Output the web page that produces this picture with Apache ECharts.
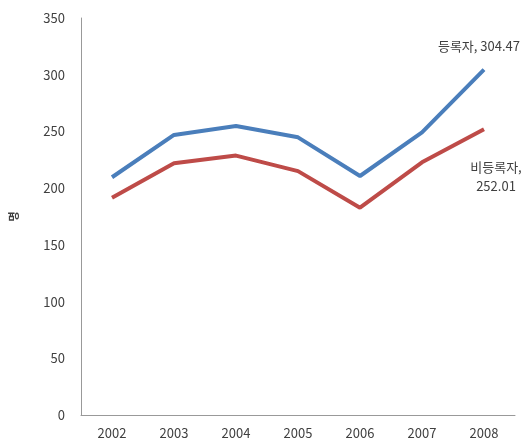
<!DOCTYPE html>
<html>
<head>
<meta charset="utf-8">
<script src="https://cdn.jsdelivr.net/npm/echarts@6/dist/echarts.min.js"></script>
<style>
  html, body { margin: 0; padding: 0; background: #fff; }
  #chart { width: 531px; height: 442px; }
</style>
</head>
<body>
<div id="chart"></div>
<script>
var years = ['2002', '2003', '2004', '2005', '2006', '2007', '2008'];
var registered = [209.6, 246.9, 254.8, 244.8, 210.7, 249.2, 304.47];
var unregistered = [191.6, 221.9, 228.7, 215.0, 182.8, 222.8, 252.01];
var seriesNames = ['등록자', '비등록자'];
var yTicks = { min: 0, max: 350, interval: 50 };

var font = '"Noto Sans CJK KR", "Noto Sans", sans-serif';
var textColor = '#404040';

var myChart = echarts.init(document.getElementById('chart'));

var option = {
    animation: false,
    grid: { left: 80, right: 16, top: 18, bottom: 27 },
    xAxis: {
        type: 'category',
        data: years,
        boundaryGap: true,
        axisLine: { lineStyle: { color: '#999', width: 1 } },
        axisTick: { show: false },
        axisLabel: { color: textColor, fontFamily: font, fontSize: 13, margin: 12 },
        splitLine: { show: false }
    },
    yAxis: {
        type: 'value',
        min: yTicks.min,
        max: yTicks.max,
        interval: yTicks.interval,
        name: '명',
        nameLocation: 'middle',
        nameRotate: 90,
        nameGap: 62,
        nameTextStyle: { color: textColor, fontFamily: font, fontSize: 11, fontWeight: 'bold' },
        axisLine: { show: true, lineStyle: { color: '#999', width: 1 } },
        axisTick: { show: false },
        axisLabel: { color: textColor, fontFamily: font, fontSize: 13, margin: 16 },
        splitLine: { show: false }
    },
    series: [
        {
            name: seriesNames[0],
            type: 'line',
            symbol: 'none',
            lineStyle: { color: '#4a7ebb', width: 4 },
            itemStyle: { color: '#4a7ebb' },
            data: registered,
            endLabel: {
                show: true,
                align: 'center',
                verticalAlign: 'middle',
                distance: 0,
                offset: [-5, -24],
                color: textColor,
                fontFamily: font,
                fontSize: 13,
                formatter: function (p) { return p.seriesName + ', ' + p.value; }
            }
        },
        {
            name: seriesNames[1],
            type: 'line',
            symbol: 'none',
            lineStyle: { color: '#be4b48', width: 4 },
            itemStyle: { color: '#be4b48' },
            data: unregistered,
            endLabel: {
                show: true,
                align: 'center',
                verticalAlign: 'middle',
                distance: 0,
                offset: [12, 47],
                lineHeight: 19,
                color: textColor,
                fontFamily: font,
                fontSize: 13,
                formatter: function (p) { return p.seriesName + ',\n' + p.value; }
            }
        }
    ]
};
myChart.setOption(option);
</script>
</body>
</html>
